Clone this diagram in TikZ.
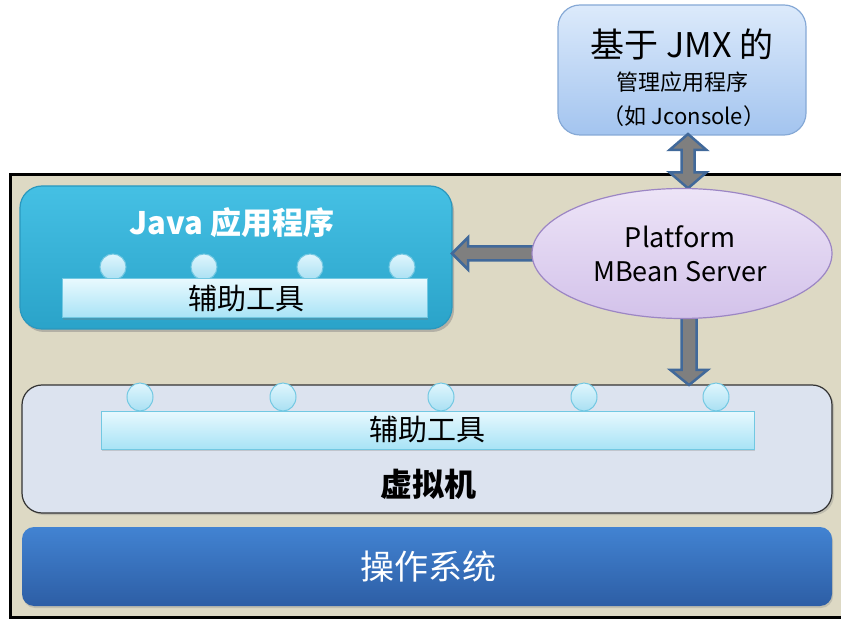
\documentclass[tikz,border=0pt]{standalone}
\usepackage{fontspec}
\setmainfont{Noto Sans CJK SC}
\usetikzlibrary{calc,shadows,shapes.geometric}
\definecolor{framefill}{HTML}{DDD9C4}
\definecolor{jmxtop}{HTML}{DCEAFB}
\definecolor{jmxbot}{HTML}{A3C4EF}
\definecolor{jmxline}{HTML}{86A9D6}
\definecolor{javatop}{HTML}{45C0E4}
\definecolor{javabot}{HTML}{2AA3C9}
\definecolor{javaline}{HTML}{2A98BE}
\definecolor{bartop}{HTML}{E8F9FE}
\definecolor{barbot}{HTML}{A8E3F6}
\definecolor{barline}{HTML}{72C8E2}
\definecolor{dottop}{HTML}{E0F6FD}
\definecolor{dotbot}{HTML}{A9E0F3}
\definecolor{vmfill}{HTML}{DCE3EF}
\definecolor{ostop}{HTML}{4283D2}
\definecolor{osbot}{HTML}{2D5EA5}
\definecolor{mbstop}{HTML}{EDE4F7}
\definecolor{mbsbot}{HTML}{D3C2EA}
\definecolor{mbsline}{HTML}{9C86C4}
\definecolor{arrowgray}{HTML}{7F7F7F}
\definecolor{arrowblue}{HTML}{41699A}
\tikzset{
  shape box/.style={rectangle, inner sep=0pt, outer sep=0pt},
  fat/.style={fill=arrowgray, draw=arrowblue, line width=2.5pt, line join=miter},
  dot/.style={circle, inner sep=0pt, minimum size=26pt, draw=barline, line width=1pt, top color=dottop, bottom color=dotbot},
  vdot/.style={ellipse, inner sep=0pt, minimum width=26pt, minimum height=28pt, draw=barline, line width=1pt, top color=dottop, bottom color=dotbot},
  bar/.style={shape box, draw=barline, line width=1pt, top color=bartop, bottom color=barbot, drop shadow={shadow xshift=1pt, shadow yshift=-2pt, opacity=0.3}},
  txt/.style={inner sep=0pt, align=center},
}
\begin{document}
\begin{tikzpicture}[x=1pt,y=-1pt]
\useasboundingbox (0,0) rectangle (841,620);
% outer frame
\node[shape box, fill=framefill, draw=black, line width=3pt, minimum width=840pt, minimum height=442pt] (frame) at (430,396) {};
% JMX box
\node[shape box, rounded corners=22pt, draw=jmxline, line width=1.2pt, top color=jmxtop, bottom color=jmxbot, minimum width=248pt, minimum height=130pt] (jmx) at (682,70) {};
\node[txt, font=\fontsize{34}{38}\selectfont] (jmx1) at (682,44) {基于 JMX 的};
\node[txt, font=\fontsize{22}{26}\selectfont] (jmx2) at (682,82) {管理应用程序};
\node[txt, font=\fontsize{22}{26}\selectfont] (jmx3) at (684,116) {（如 Jconsole）};
% Java application box
\node[shape box, rounded corners=22pt, draw=javaline, line width=1.2pt, top color=javatop, bottom color=javabot, minimum width=432pt, minimum height=143pt, drop shadow={shadow xshift=2pt, shadow yshift=-3pt, opacity=0.45}] (java) at (236,257.5) {};
\node[txt, text=white, font=\bfseries\fontsize{31}{35}\selectfont] (javat) at (232,223) {Java 应用程序};
\node[dot] (jd1) at (113,267) {};
\node[dot] (jd2) at (204,267) {};
\node[dot] (jd3) at (310,267) {};
\node[dot] (jd4) at (402,267) {};
\node[bar, minimum width=365pt, minimum height=39pt] (jbar) at (244.5,298.5) {};
\node[txt, font=\fontsize{29}{33}\selectfont] (jbart) at (246,299) {辅助工具};
% VM box
\node[shape box, rounded corners=20pt, draw=black!80, line width=1.2pt, fill=vmfill, minimum width=810pt, minimum height=128pt, drop shadow={shadow xshift=2pt, shadow yshift=-2pt, opacity=0.3}] (vm) at (427,449) {};
\node[vdot] (vd1) at (140,397) {};
\node[vdot] (vd2) at (283,397) {};
\node[vdot] (vd3) at (441,397) {};
\node[vdot] (vd4) at (584,397) {};
\node[vdot] (vd5) at (716,397) {};
\node[bar, minimum width=653pt, minimum height=38pt] (vbar) at (427.5,430) {};
\node[txt, font=\fontsize{29}{33}\selectfont] (vbart) at (427,430) {辅助工具};
\node[txt, font=\bfseries\fontsize{32}{36}\selectfont] (vmt) at (428,484) {虚拟机};
% OS box
\node[shape box, rounded corners=12pt, top color=ostop, bottom color=osbot, minimum width=810pt, minimum height=79pt, drop shadow={shadow xshift=1pt, shadow yshift=-2pt, opacity=0.3}] (os) at (427,566.5) {};
\node[txt, text=white, font=\fontsize{34}{38}\selectfont] (ost) at (428,567) {操作系统};
% MBean server ellipse (shape placed first for arrows)
\path (682,253.5) node[ellipse, inner sep=0pt, minimum width=300pt, minimum height=130pt] (mbs) {};
% arrows
\coordinate (la) at ($(mbs.west)+(6,0)$);
\coordinate (lb) at (java.east |- mbs.west);
\draw[fat] ($(la)+(0,-7)$) -- ($(lb)+(16,-7)$) -- ($(lb)+(16,-16)$) -- (lb) -- ($(lb)+(16,16)$) -- ($(lb)+(16,7)$) -- ($(la)+(0,7)$) -- cycle;
\coordinate (da) at ($(mbs.south)+(7,-6)$);
\coordinate (db) at (da |- vm.north);
\draw[fat] ($(da)+(-7.5,0)$) -- ($(db)+(-7.5,-15)$) -- ($(db)+(-18.5,-15)$) -- (db) -- ($(db)+(18.5,-15)$) -- ($(db)+(7.5,-15)$) -- ($(da)+(7.5,0)$) -- cycle;
\coordinate (ua) at ($(jmx.south)+(6,-1)$);
\coordinate (ub) at ($(mbs.north)+(6,0)$);
\draw[fat] (ua) -- ($(ua)+(18.5,16)$) -- ($(ua)+(6.5,16)$) -- ($(ub)+(6.5,-16)$) -- ($(ub)+(18.5,-16)$) -- (ub) -- ($(ub)+(-18.5,-16)$) -- ($(ub)+(-6.5,-16)$) -- ($(ua)+(-6.5,16)$) -- ($(ua)+(-18.5,16)$) -- cycle;
% ellipse drawn on top
\node[ellipse, inner sep=0pt, minimum width=300pt, minimum height=130pt, draw=mbsline, line width=1.2pt, top color=mbstop, bottom color=mbsbot] (mbsdraw) at (mbs) {};
\node[txt, font=\fontsize{27}{31}\selectfont] (mbs1) at (680,237) {Platform};
\node[txt, font=\fontsize{27}{31}\selectfont] (mbs2) at (680,272) {MBean Server};
\end{tikzpicture}
\end{document}
